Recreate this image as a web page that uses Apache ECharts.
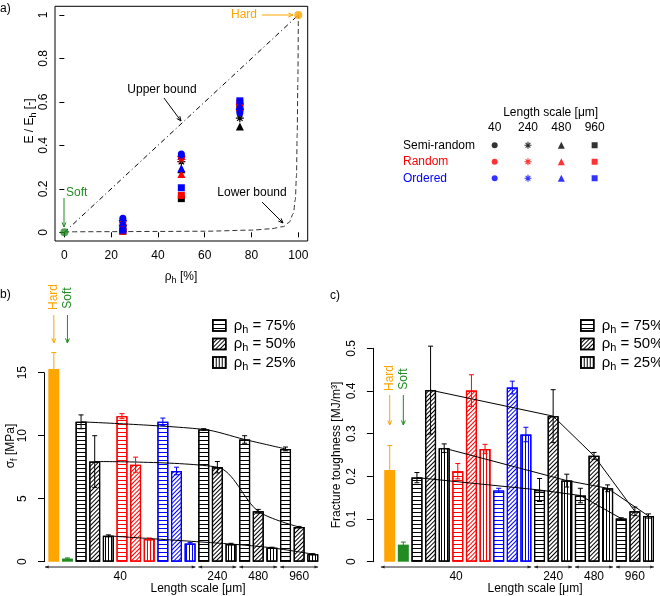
<!DOCTYPE html>
<html>
<head>
<meta charset="utf-8">
<script src="https://cdn.jsdelivr.net/npm/echarts@6/dist/echarts.min.js"></script>
<style>
  html, body { margin: 0; padding: 0; background: #fff; }
  #chart { width: 660px; height: 596px; }
</style>
</head>
<body>
<div id="chart"></div>
<script>
// ---------- data ----------

// a) relative modulus vs hard fraction
const rhoH = [25, 50, 75];
const arrangements = ['Semi-random', 'Random', 'Ordered'];
const arrangementColors = ['#000000', '#FF0000', '#0000FF'];
const lengthScales = ['40', '240', '480', '960'];
// rows: length scale 40, 240, 480, 960 ; columns: rho_h 25, 50, 75
const modulusSemiRandom = [[0.05, 0.35, 0.56], [0.03, 0.325, 0.525], [0.02, 0.29, 0.487], [0.005, 0.155, 0.58]];
const modulusRandom = [[0.05, 0.345, 0.57], [0.037, 0.335, 0.59], [0.03, 0.268, 0.575], [0.005, 0.17, 0.595]];
const modulusOrdered = [[0.065, 0.36, 0.55], [0.055, 0.35, 0.565], [0.045, 0.295, 0.585], [0.01, 0.205, 0.605]];
const softPoint = [0, 0];
const hardPoint = [100, 1];
const upperBoundX = [0, 100];
const upperBoundY = [0, 1];
const lowerBoundX = [0, 20, 40, 60, 80, 88, 93.6, 96, 97.9, 98.7, 99.2, 99.5, 99.8, 100];
const lowerBoundY = [0.002, 0.003, 0.004, 0.005, 0.01, 0.016, 0.026, 0.045, 0.087, 0.15, 0.26, 0.45, 0.7, 1];
const xTicksA = [0, 20, 40, 60, 80, 100];
const yTicksA = [0, 0.2, 0.4, 0.6, 0.8, 1];

// b), c) bars
const barCategories = ['Hard', 'Soft',
  'SR40-75', 'SR40-50', 'SR40-25', 'R40-75', 'R40-50', 'R40-25', 'O40-75', 'O40-50', 'O40-25',
  'SR240-75', 'SR240-50', 'SR240-25', 'SR480-75', 'SR480-50', 'SR480-25', 'SR960-75', 'SR960-50', 'SR960-25'];
const barGroups = ['hard', 'soft', 'k75', 'k50', 'k25', 'r75', 'r50', 'r25', 'b75', 'b50', 'b25',
  'k75', 'k50', 'k25', 'k75', 'k50', 'k25', 'k75', 'k50', 'k25'];
const strength = [15.3, 0.25, 11.1, 7.95, 2.05, 11.55, 7.7, 1.8, 11.1, 7.2, 1.45, 10.5, 7.5, 1.4, 9.7, 4.0, 1.1, 8.95, 2.75, 0.6];
const strengthErr = [1.3, 0.05, 0.55, 2.05, 0.08, 0.2, 0.6, 0.08, 0.3, 0.3, 0.08, 0.06, 0.45, 0.06, 0.3, 0.15, 0.05, 0.15, 0.05, 0.04];
const toughness = [0.215, 0.04, 0.197, 0.402, 0.266, 0.212, 0.401, 0.264, 0.167, 0.408, 0.298, 0.168, 0.341, 0.19, 0.155, 0.248, 0.172, 0.101, 0.118, 0.107];
const toughnessErr = [0.057, 0.006, 0.012, 0.103, 0.01, 0.018, 0.037, 0.011, 0.005, 0.015, 0.017, 0.027, 0.062, 0.015, 0.017, 0.008, 0.008, 0.002, 0.01, 0.005];
const trend75 = [2, 11, 14, 17];
const trend50 = [3, 12, 15, 18];
const trend25 = [4, 13, 16, 19];
const scaleGroupLabels = ['40', '240', '480', '960'];
const scaleGroupStart = [0, 11, 14, 17];
const scaleGroupEnd = [11, 14, 17, 20];

// ---------- layout ----------
const FONT = '"Liberation Sans", Arial, sans-serif';
const A = { left: 55, top: 6.3, width: 252.7, height: 234.7 };
const K = { left: 478, top: 137, width: 133.3, height: 49.5 };
const B = { left: 47, top: 372.7, width: 272.6, height: 189 };
const C = { left: 382.9, top: 348.3, width: 272.4, height: 213.4 };
const ORANGE = '#FFA500';
const GREEN = '#228B22';

const groupKeys = ['hard', 'soft', 'k75', 'k50', 'k25', 'r75', 'r50', 'r25', 'b75', 'b50', 'b25'];
function groupColor(key) {
  if (key === 'hard') return ORANGE;
  if (key === 'soft') return GREEN;
  return { k: '#000', r: '#FF0000', b: '#0000FF' }[key[0]];
}
function hatch(key) {
  const color = groupColor(key);
  const kind = key.slice(1);
  if (kind === '75') return { symbol: 'rect', symbolSize: 1, color, dashArrayX: [1, 0], dashArrayY: [1, 3], rotation: 0 };
  if (kind === '50') return { symbol: 'rect', symbolSize: 1, color, dashArrayX: [1, 0], dashArrayY: [1, 2], rotation: -Math.PI / 4 };
  return { symbol: 'rect', symbolSize: 1, color, dashArrayX: [1, 2], dashArrayY: [1, 0], rotation: 0 };
}
function seriesName(key) {
  if (key[0] === 'k') return key.slice(1) + '%';
  return key;
}
function barStyle(key) {
  if (key === 'hard' || key === 'soft') return { color: groupColor(key), borderWidth: 0 };
  return { color: '#fff', borderColor: groupColor(key), borderWidth: 1.2, decal: hatch(key) };
}

function barSeries(axis, values) {
  return groupKeys.map(key => ({
    type: 'bar', name: seriesName(key), xAxisIndex: axis, yAxisIndex: axis,
    data: values.map((v, i) => (barGroups[i] === key ? v : '-')),
    barWidth: 11, barGap: '-100%', clip: false, z: 2,
    itemStyle: barStyle(key), emphasis: { disabled: true }
  }));
}

function errorSeries(axis, values, errors) {
  return {
    type: 'custom', xAxisIndex: axis, yAxisIndex: axis, clip: false, z: 5, silent: true,
    data: values.map((v, i) => [i, Math.max(0, v - errors[i]), v + errors[i]]),
    renderItem(params, api) {
      const i = api.value(0);
      const lo = api.coord([i, api.value(1)]);
      const hi = api.coord([i, api.value(2)]);
      const st = { stroke: groupColor(barGroups[i]), lineWidth: 1 };
      const w = 2.5;
      return {
        type: 'group', children: [
          { type: 'line', shape: { x1: hi[0], y1: lo[1], x2: hi[0], y2: hi[1] }, style: st },
          { type: 'line', shape: { x1: hi[0] - w, y1: hi[1], x2: hi[0] + w, y2: hi[1] }, style: st },
          { type: 'line', shape: { x1: lo[0] - w, y1: lo[1], x2: lo[0] + w, y2: lo[1] }, style: st }
        ]
      };
    }
  };
}

function trendSeries(axis, values, idx, smooth) {
  return {
    type: 'line', xAxisIndex: axis, yAxisIndex: axis, silent: true, z: 4,
    data: idx.map(i => [i, values[i]]), symbol: 'none', smooth,
    lineStyle: { color: '#000', width: 1 }
  };
}

// ---------- panel a symbols ----------
const ASTERISK = 'path://M5 0L5 10M0 5L10 5M1.6 1.6L8.4 8.4M1.6 8.4L8.4 1.6';
const scaleSymbols = ['circle', ASTERISK, 'triangle', 'rect'];
const scaleSymbolSize = [7, 8, 8, 7];
const modulus = [modulusSemiRandom, modulusRandom, modulusOrdered];

const scatterSeries = [];
arrangements.forEach((arr, a) => {
  lengthScales.forEach((ls, s) => {
    scatterSeries.push({
      type: 'scatter', name: arr + ' ' + ls, xAxisIndex: 0, yAxisIndex: 0, z: 3 + a,
      symbol: scaleSymbols[s], symbolSize: scaleSymbolSize[s],
      itemStyle: { color: arrangementColors[a], borderColor: arrangementColors[a], borderWidth: s === 1 ? 1.2 : 0, opacity: 1 },
      data: rhoH.map((x, k) => [x, modulus[a][s][k]])
    });
  });
  // legend matrix
  scatterSeries.push({
    type: 'scatter', xAxisIndex: 1, yAxisIndex: 1, silent: true,
    itemStyle: { color: arrangementColors[a], borderColor: arrangementColors[a], borderWidth: 0 },
    data: lengthScales.map((ls, s) => ({
      value: [s, a], symbol: scaleSymbols[s], symbolSize: scaleSymbolSize[s] - 1,
      itemStyle: { borderWidth: s === 1 ? 1.1 : 0 }
    }))
  });
});

// ---------- graphic helpers ----------
function txt(x, y, text, o = {}) {
  return {
    type: 'text', x, y, rotation: o.rotation || 0, silent: true,
    style: {
      text, fill: o.color || '#000', fontSize: o.size || 12, fontFamily: FONT,
      align: o.align || 'center', verticalAlign: 'middle', rich: o.rich
    }
  };
}
function subTxt(x, y, base, sub, rest, rotation, size = 12) {
  const rich = {
    n: { fontSize: size, lineHeight: size + 2, fontFamily: FONT, fill: '#000' },
    s: { fontSize: size * 0.75, lineHeight: size * 0.8, padding: [size * 0.6, 0, 0, 0], fontFamily: FONT, fill: '#000' }
  };
  return txt(x, y, `{n|${base}}{s|${sub}}{n|${rest}}`, { rotation, rich });
}
function head(x, y, ang, color, size, filled) {
  const p1 = [x - size * Math.cos(ang - 0.4), y - size * Math.sin(ang - 0.4)];
  const p2 = [x - size * Math.cos(ang + 0.4), y - size * Math.sin(ang + 0.4)];
  return filled
    ? { type: 'polygon', silent: true, shape: { points: [p1, [x, y], p2] }, style: { fill: color } }
    : { type: 'polyline', silent: true, shape: { points: [p1, [x, y], p2] }, style: { stroke: color, fill: null, lineWidth: 1 } };
}
function arrow(x1, y1, x2, y2, color, both = false, filled = false, size = 5) {
  const ang = Math.atan2(y2 - y1, x2 - x1);
  const out = [{ type: 'line', silent: true, shape: { x1, y1, x2, y2 }, style: { stroke: color, lineWidth: 1 } },
    head(x2, y2, ang, color, size, filled)];
  if (both) out.push(head(x1, y1, ang + Math.PI, color, size, filled));
  return out;
}
function barCenter(G, i) { return G.left + (i + 0.5) * G.width / barCategories.length; }
function barEdge(G, i) { return G.left + i * G.width / barCategories.length; }

const graphics = [];
graphics.push(txt(0, 9, 'a)', { align: 'left' }), txt(0, 295, 'b)', { align: 'left' }), txt(330, 296, 'c)', { align: 'left' }));
// axis titles
graphics.push(subTxt(30, 121, 'E / E', 'h', ' [-]', Math.PI / 2));
graphics.push(subTxt(181, 277, 'ρ', 'h', ' [%]', 0));
graphics.push(subTxt(11, 446, 'σ', 'f', ' [MPa]', Math.PI / 2));
graphics.push(txt(337, 455, 'Fracture toughness [MJ/m³]', { rotation: Math.PI / 2 }));
// panel a annotations
graphics.push(txt(257, 15, 'Hard', { align: 'right', color: ORANGE }), ...arrow(262, 15, 293, 15, ORANGE));
graphics.push(txt(66, 193, 'Soft', { align: 'left', color: GREEN }), ...arrow(64, 198, 64, 227, GREEN));
graphics.push(txt(162, 90, 'Upper bound'), ...arrow(164, 98, 181, 121, '#000'));
graphics.push(txt(252, 193, 'Lower bound'), ...arrow(262, 202, 283, 223, '#000'));

// panels b and c: hard / soft markers and length-scale arrows
[[B, 297, 315, 343], [C, 378, 395, 425]].forEach(([G, ty, ay1, ay2]) => {
  const hx = barCenter(G, 0), sx = barCenter(G, 1);
  graphics.push(txt(hx, ty, 'Hard', { rotation: Math.PI / 2, color: ORANGE }), ...arrow(hx, ay1, hx, ay2, ORANGE));
  graphics.push(txt(sx, ty + 1, 'Soft', { rotation: Math.PI / 2, color: GREEN }), ...arrow(sx, ay1, sx, ay2, GREEN));
  scaleGroupLabels.forEach((lab, g) => {
    const x1 = g === 0 ? barEdge(G, 0) - 2 : barEdge(G, scaleGroupStart[g]) + 1.5;
    const x2 = barEdge(G, scaleGroupEnd[g]) - 1.5;
    graphics.push(...arrow(x1, 567, x2, 567, '#222', true, true, 4));
    graphics.push(txt((x1 + x2) / 2, 577, lab));
  });
});
graphics.push(txt(198, 589, 'Length scale [μm]'), txt(535, 589, 'Length scale [μm]'));

// ---------- axes ----------
const black = { color: '#000' };
function valueY(grid, min, max, interval, offset, margin, fmt) {
  return {
    type: 'value', gridIndex: grid, min, max, interval, offset,
    axisLine: { show: true, lineStyle: { color: '#000', width: 1 } },
    axisTick: { show: true, length: 6, lineStyle: black },
    axisLabel: { rotate: 90, margin, color: '#000', fontSize: 12, fontFamily: FONT, formatter: fmt },
    splitLine: { show: false }
  };
}
const fmt1 = v => String(Math.round(v * 10) / 10);

function hatchLegend(left) {
  return {
    show: true, orient: 'vertical', left, top: 316, padding: 0, icon: 'rect', itemWidth: 13, itemHeight: 11, itemGap: -0.5,
    selectedMode: false, data: ['75%', '50%', '25%'],
    formatter: name => `{n|ρ}{s|h}{n| = ${name}}`,
    itemStyle: { borderWidth: 1.5 },
    textStyle: {
      padding: [0, 0, 0, 3],
      rich: {
        n: { fontSize: 15, lineHeight: 16, color: '#000', fontFamily: FONT },
        s: { fontSize: 11, lineHeight: 11, padding: [8, 0, 0, 0], color: '#000', fontFamily: FONT }
      }
    }
  };
}

const option = {
  animation: false,
  backgroundColor: '#fff',
  textStyle: { fontFamily: FONT },
  grid: [
    { ...A, show: true, borderColor: '#000', borderWidth: 1, backgroundColor: 'transparent', containLabel: false },
    { ...K, containLabel: false },
    { ...B, containLabel: false },
    { ...C, containLabel: false }
  ],
  xAxis: [
    {
      type: 'value', gridIndex: 0, min: -4, max: 104,
      axisLine: { show: false }, splitLine: { show: false },
      axisTick: { show: true, customValues: xTicksA, length: 5, lineStyle: black },
      axisLabel: { customValues: xTicksA, margin: 9, color: '#000', fontSize: 12, fontFamily: FONT }
    },
    {
      type: 'category', gridIndex: 1, data: lengthScales, position: 'top',
      axisLine: { show: false }, axisTick: { show: false },
      axisLabel: { margin: 3, color: '#000', fontSize: 12, fontFamily: FONT },
      name: 'Length scale [μm]', nameLocation: 'middle', nameGap: 18,
      nameTextStyle: { color: '#000', fontSize: 12, fontFamily: FONT, padding: [0, 0, 0, 12] }
    },
    { type: 'category', gridIndex: 2, data: barCategories, show: false },
    { type: 'category', gridIndex: 3, data: barCategories, show: false }
  ],
  yAxis: [
    {
      type: 'value', gridIndex: 0, min: -0.04, max: 1.04,
      axisLine: { show: false }, splitLine: { show: false },
      axisTick: { show: true, customValues: yTicksA, length: 5, lineStyle: black },
      axisLabel: { customValues: yTicksA, rotate: 90, margin: 5, color: '#000', fontSize: 12, fontFamily: FONT, formatter: fmt1 }
    },
    {
      type: 'category', gridIndex: 1, data: arrangements, inverse: true,
      axisLine: { show: false }, axisTick: { show: false },
      axisLabel: { align: 'left', margin: 75, fontSize: 12, fontFamily: FONT, color: (v, i) => arrangementColors[i] }
    },
    valueY(2, 0, 15, 5, 3, 15, v => String(v)),
    valueY(3, 0, 0.5, 0.1, 10, 15, fmt1)
  ],
  legend: [hatchLegend(212), hatchLegend(580)],
  series: [
    {
      type: 'line', xAxisIndex: 0, yAxisIndex: 0, silent: true, symbol: 'none', z: 2,
      data: upperBoundX.map((x, i) => [x, upperBoundY[i]]),
      lineStyle: { color: '#000', width: 1, type: [5, 3, 1, 3] }
    },
    {
      type: 'line', xAxisIndex: 0, yAxisIndex: 0, silent: true, symbol: 'none', z: 2,
      smooth: 0.3, smoothMonotone: 'x',
      data: lowerBoundX.map((x, i) => [x, lowerBoundY[i]]),
      lineStyle: { color: '#333', width: 1, type: [5, 3] }
    },
    ...scatterSeries,
    { type: 'scatter', xAxisIndex: 0, yAxisIndex: 0, z: 8, symbolSize: 8, itemStyle: { color: GREEN }, data: [softPoint] },
    { type: 'scatter', xAxisIndex: 0, yAxisIndex: 0, z: 8, symbolSize: 8, itemStyle: { color: ORANGE }, data: [hardPoint] },

    ...barSeries(2, strength),
    errorSeries(2, strength, strengthErr),
    trendSeries(2, strength, trend75, 0.3),
    trendSeries(2, strength, trend50, 0.3),
    trendSeries(2, strength, trend25, 0.3),

    ...barSeries(3, toughness),
    errorSeries(3, toughness, toughnessErr),
    trendSeries(3, toughness, trend75, false),
    trendSeries(3, toughness, trend50, false),
    trendSeries(3, toughness, trend25, false)
  ],
  graphic: { elements: graphics }
};

const chart = echarts.init(document.getElementById('chart'));
chart.setOption(option);
</script>
</body>
</html>
